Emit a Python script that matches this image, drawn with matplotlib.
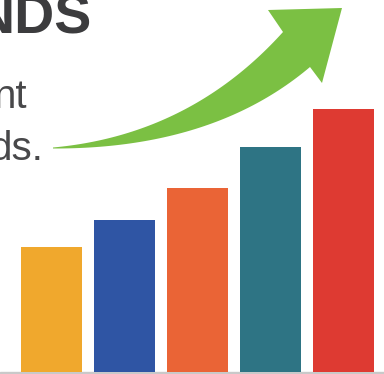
import numpy as np
import matplotlib.pyplot as plt
from matplotlib.patches import Polygon

# bar data (heights, pixel-ish units)
categories = ['1', '2', '3', '4', '5']
values = [125, 152, 184, 225, 263]
colors = ['#F0A82D', '#2F55A4', '#EA6436', '#2E7484', '#DE3A32']

W, H = 384, 374
fig = plt.figure(figsize=(W / 100, H / 100), dpi=100)
fig.patch.set_facecolor('white')

# bars
ax = fig.add_axes([0, 0, 1, 1])
x = np.arange(len(categories))
ax.bar(x, values, width=0.836, color=colors, zorder=2)
ax.axhspan(-2, 0.5, color='#c9c9c9', zorder=1)
ax.set_xlim(-51.5 / 73, (W - 51.5) / 73)
ax.set_ylim(-2, H - 2)
ax.axis('off')

# overlay in pixel coords for the arrow and text
ov = fig.add_axes([0, 0, 1, 1])
ov.set_xlim(0, W)
ov.set_ylim(H, 0)
ov.axis('off')


def bez(p0, p1, p2, n=60):
    t = np.linspace(0, 1, n)[:, None]
    p0, p1, p2 = map(np.array, (p0, p1, p2))
    return (1 - t) ** 2 * p0 + 2 * (1 - t) * t * p1 + t ** 2 * p2


upper = bez((53, 147.5), (190, 135), (283, 32))
lower = bez((53, 148.5), (213, 149), (310, 67))
head = np.array([[268, 10], [342, 8], [322, 83]])
pts = np.vstack([upper, [head[0]], [head[1]], [head[2]], lower[::-1]])
ov.add_patch(Polygon(pts, closed=True, facecolor='#7BC043', edgecolor='none'))

# text
fs = dict(family=['Liberation Sans', 'DejaVu Sans'])
fig.text(91 / W, 1 - 33 / H, 'NDS', ha='right', va='baseline', fontsize=40,
         fontweight='bold', color='#3c3c3e', **fs)
fig.text(27 / W, 1 - 108 / H, 'nt', ha='right', va='baseline', fontsize=29,
         color='#48484a', **fs)
fig.text(43 / W, 1 - 160 / H, 'ds.', ha='right', va='baseline', fontsize=29,
         color='#48484a', **fs)

fig.savefig('out.png', dpi=100, facecolor='white')
